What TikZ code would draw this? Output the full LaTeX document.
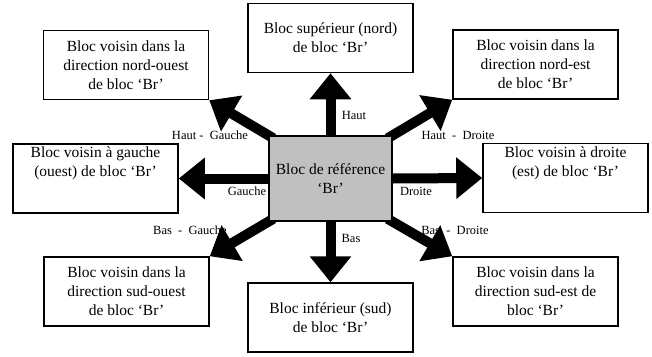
\documentclass[tikz,border=0pt]{standalone}
\usepackage{fontspec}
\setmainfont{Liberation Serif}
\usepackage{xcolor}
\usetikzlibrary{arrows.meta,positioning}
\definecolor{refgris}{HTML}{C0C0C0}
\pgfdeclarelayer{fond}
\pgfdeclarelayer{fleches}
\pgfsetlayers{fond,fleches,main}
\tikzset{
  bloc/.style={draw,line width=1.5pt,fill=white,minimum width=165pt,
    minimum height=69pt,align=center,inner sep=2pt,
    font=\fontsize{15.5}{19}\selectfont},
  blochaut/.style={bloc,text depth=33pt},
  ref/.style={bloc,fill=refgris,minimum width=123pt,minimum height=85pt},
  fleche/.style={line width=10pt,-{Triangle[length=26pt,width=40pt]}},
  diag/.style={fleche,shorten <=-6pt},
  etiq/.style={inner sep=0pt,font=\fontsize{12.5}{14}\selectfont}
}

\begin{document}
\begin{tikzpicture}[x=1pt,y=-1pt]
  \useasboundingbox (0,0) rectangle (652,356);
  % blocs
  \node[ref] (br) at (330.5,178.5) {Bloc de référence\\‘Br’};
  \node[bloc] (haut) at (330.5,38) {Bloc supérieur (nord)\\de bloc ‘Br’};
  \node[bloc] (bas) at (330.5,317.5) {Bloc inférieur (sud)\\de bloc ‘Br’};
  \node[blochaut] (gauche) at (95.5,178.5) {Bloc voisin à gauche\\(ouest) de bloc ‘Br’};
  \node[blochaut] (droite) at (565.5,178) {Bloc voisin à droite\\(est) de bloc ‘Br’};
  \node[bloc] (no) at (126,65) {Bloc voisin dans la\\direction nord-ouest\\de bloc ‘Br’};
  \node[bloc] (ne) at (535.5,64.5) {Bloc voisin dans la\\direction nord-est\\de bloc ‘Br’};
  \node[bloc] (so) at (126.5,291.5) {Bloc voisin dans la\\direction sud-ouest\\de bloc ‘Br’};
  \node[bloc] (se) at (535.5,291.5) {Bloc voisin dans la\\direction sud-est de\\bloc ‘Br’};
  % etiquettes
  \begin{pgfonlayer}{fond}
    \node[etiq] (lhaut) at (354,115) {Haut};
    \node[etiq] (lbas) at (351,238) {Bas};
    \node[etiq] (lgauche) at (247,191) {Gauche};
    \node[etiq] (ldroite) at (416,191) {Droite};
    \node[etiq] (lno) at (210,135) {Haut -\ \ Gauche};
    \node[etiq] (lne) at (458,135) {Haut \ -\ \ Droite};
    \node[etiq] (lso) at (190,230) {Bas \ -\ \ Gauche};
    \node[etiq] (lse) at (455,230) {Bas \ -\ \ Droite};
  \end{pgfonlayer}
  % fleches
  \begin{pgfonlayer}{fleches}
    \draw[fleche] (br.north) -- (haut.south);
    \draw[fleche] (br.south) -- (bas.north);
    \draw[fleche] (br.west) -- (gauche.east);
    \draw[fleche] (br.east) -- (droite.west);
    \draw[diag] (br.north west) -- (no.south east);
    \draw[diag] (br.north east) -- (ne.south west);
    \draw[diag] (br.south west) -- (so.north east);
    \draw[diag] (br.south east) -- (se.north west);
  \end{pgfonlayer}
\end{tikzpicture}
\end{document}
